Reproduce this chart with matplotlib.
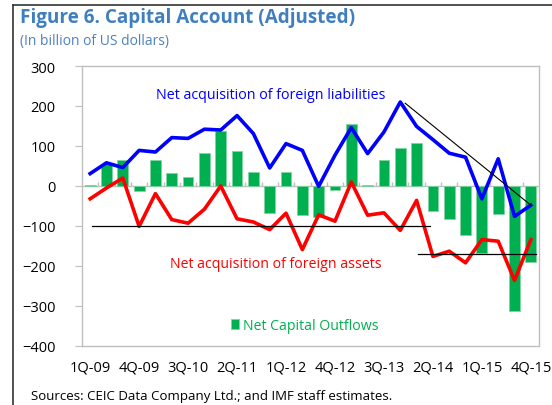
import numpy as np
import matplotlib
matplotlib.use("Agg")
import matplotlib.pyplot as plt
from matplotlib.lines import Line2D

plt.rcParams['font.family'] = ['Open Sans', 'DejaVu Sans']

# ===== 数据 =====
quarters = [f"{q}Q-{y:02d}" for y in range(9, 16) for q in range(1, 5)]
tick_labels = ["1Q-09", "4Q-09", "3Q-10", "2Q-11", "1Q-12",
               "4Q-12", "3Q-13", "2Q-14", "1Q-15", "4Q-15"]

liabilities = [31, 58, 46, 89, 85, 121, 119, 142, 140, 176, 131, 45, 106, 89,
               -1, 77, 146, 81, 135, 210, 149, 116, 82, 72, -32, 68, -76, -48]
assets = [-32, -5, 20, -101, -19, -84, -93, -58, 0, -82, -90, -109, -68, -159,
          -72, -88, 10, -73, -67, -111, -36, -176, -163, -192, -134, -138, -236, -134]
outflows = [2, 54, 65, -12, 64, 33, 22, 82, 137, 88, 36, -67, 35, -73,
            -77, -11, 156, 2, 64, 96, 108, -62, -83, -122, -167, -71, -313, -190]

# 趋势线 (x 为季度序号, y 为数值)
trend1_x, trend1_y = [0.1, 20.8], [-100, -100]
trend2_x, trend2_y = [20.1, 27.3], [-171, -171]
trend3_x, trend3_y = [19.3, 27.0], [207, -48]

x = np.arange(len(quarters))

# ===== 画图 =====
W, H = 552, 406
fig = plt.figure(figsize=(W / 100, H / 100), dpi=100)
ax = fig.add_axes([82 / W, (H - 347) / H, (539 - 82) / W, (347 - 67) / H])

ax.bar(x, outflows, width=0.66, color="#00B050", edgecolor="#7FD4A0",
       linewidth=0.6, label="Net Capital Outflows", zorder=2)
ax.axhline(0, color="#BFBFBF", lw=1, zorder=1)
ax.vlines(x[:-1] + 0.5, 0, 10, color="#BFBFBF", lw=1, zorder=1)

ax.plot(x, liabilities, color="#0000FF", lw=2.6, zorder=3)
ax.plot(x, assets, color="#FF0000", lw=2.6, zorder=3)
ax.plot(trend1_x, trend1_y, color="black", lw=0.9, zorder=4)
ax.plot(trend2_x, trend2_y, color="black", lw=0.9, zorder=4)
ax.plot(trend3_x, trend3_y, color="black", lw=0.8, zorder=4)

ax.set_xlim(-0.5, 27.5)
ax.set_ylim(-400, 300)
ax.set_yticks(range(-400, 301, 100))
ax.set_xticks(x[::3])
ax.set_xticklabels(tick_labels)
ax.tick_params(axis="x", length=0, pad=10, labelsize=10.5)
ax.tick_params(axis="y", length=5, color="#BFBFBF", pad=14, labelsize=10.5)
for s in ax.spines.values():
    s.set_color("#BFBFBF")
    s.set_linewidth(1)

ax.text(4.05, 228, "Net acquisition of foreign liabilities", color="#0000FF",
        fontsize=10.3, va="center", ha="left")
ax.text(4.9, -194, "Net acquisition of foreign assets", color="#FF0000",
        fontsize=10.2, va="center", ha="left")
leg = ax.legend(loc="center left", bbox_to_anchor=(9.1 / 28, (-349 + 400) / 700),
                frameon=False, fontsize=10.2, handlelength=0.6, handleheight=0.7,
                handletextpad=0.3, borderaxespad=0, borderpad=0)
for t in leg.get_texts():
    t.set_color("#00B050")

# 标题
fig.text(20 / W, 1 - 18 / H, "Figure 6. Capital Account (Adjusted)", color="#3F7FBF",
         fontsize=13.6, fontweight="bold", va="center", ha="left")
fig.text(20 / W, 1 - 41 / H, "(In billion of US dollars)", color="#4F81BD",
         fontsize=10, va="center", ha="left")
fig.text(31 / W, 1 - 397 / H, "Sources: CEIC Data Company Ltd.; and IMF staff estimates.",
         color="black", fontsize=9.5, va="center", ha="left")

# 外框线
fig.add_artist(Line2D([12.5 / W, 12.5 / W], [0, 1 - 5.5 / H], color="#333333", lw=1.2))
fig.add_artist(Line2D([12.5 / W, 1], [1 - 5.5 / H, 1 - 5.5 / H], color="#333333", lw=1.2))

fig.savefig("out.png", dpi=100)
